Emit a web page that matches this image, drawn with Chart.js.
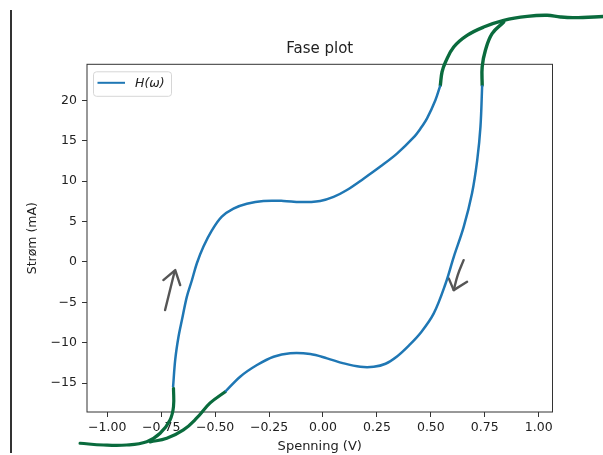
<!DOCTYPE html>
<html>
<head>
<meta charset="utf-8">
<script src="https://cdn.jsdelivr.net/npm/chart.js@4.4.1/dist/chart.umd.min.js"></script>
<style>
  body { margin:0; background:#fff; }
  #wrap { position:relative; width:603px; height:455px; }
  .edge { position:absolute; left:10px; top:10px; width:2px; height:443px; background:#333; }
</style>
</head>
<body>
<div id="wrap">
  <canvas id="myChart" width="603" height="455"></canvas>
  <div class="edge"></div>
</div>
<script>
// measured loop, forward sweep (bottom left -> top right)
const vUp = [-0.695, -0.685, -0.670, -0.654, -0.631, -0.608, -0.585, -0.554, -0.515, -0.469, -0.415, -0.353, -0.276, -0.183, -0.105, -0.013, 0.049, 0.111, 0.188, 0.266, 0.343, 0.420, 0.452, 0.483, 0.521, 0.544];
const iUp = [-15.5, -12.1, -9.3, -7.2, -4.3, -2.3, -0.2, 1.9, 3.9, 5.6, 6.6, 7.2, 7.55, 7.55, 7.4, 7.55, 8.05, 8.9, 10.3, 11.8, 13.4, 15.4, 16.5, 17.8, 20.0, 21.85];

// return sweep (top right -> bottom left)
const vDown = [0.738, 0.730, 0.715, 0.691, 0.652, 0.606, 0.568, 0.513, 0.452, 0.400, 0.343, 0.290, 0.235, 0.173, 0.096, 0.019, -0.059, -0.152, -0.229, -0.306, -0.384, -0.453];
const iDown = [21.85, 16.7, 12.6, 8.5, 4.3, 0.6, -2.7, -6.4, -8.8, -10.3, -11.7, -12.6, -12.97, -12.97, -12.55, -11.93, -11.4, -11.31, -11.73, -12.76, -14.2, -16.06];

// green pen marks drawn over the print
const penLowAv = [-1.126, -1.018, -0.910, -0.817, -0.755, -0.709, -0.693, -0.693];
const penLowAi = [-22.44, -22.65, -22.65, -22.24, -21.20, -19.55, -17.91, -15.64];
const penLowBv = [-0.453, -0.523, -0.585, -0.647, -0.724, -0.801];
const penLowBi = [-16.06, -17.45, -19.31, -20.79, -21.82, -22.27];
const penTopAv = [0.544, 0.552, 0.568, 0.606, 0.668, 0.745, 0.838, 0.947, 1.039, 1.101, 1.163, 1.31];
const penTopAi = [21.85, 23.5, 24.73, 26.59, 28.03, 29.06, 29.89, 30.38, 30.51, 30.3, 30.22, 30.38];
const penTopBv = [0.738, 0.738, 0.753, 0.784, 0.838];
const penTopBi = [21.85, 24.12, 26.18, 28.24, 29.68];

// grey arrows
const arrowUpV = [-0.732, -0.689];
const arrowUpI = [-5.96, -1.3];
const arrowUpHeadV = [-0.740, -0.685, -0.662];
const arrowUpHeadI = [-2.25, -1.01, -2.87];
const arrowDownV = [0.652, 0.625, 0.606];
const arrowDownI = [0.22, -1.6, -3.49];
const arrowDownHeadV = [0.583, 0.606, 0.668];
const arrowDownHeadI = [-2.04, -3.49, -2.46];

const xTicks = [-1, -0.75, -0.5, -0.25, 0, 0.25, 0.5, 0.75, 1];
const yTicks = [-15, -10, -5, 0, 5, 10, 15, 20];
const xMin = -1.094, xMax = 1.064;
const yMin = -18.57, yMax = 24.45;

const blue = '#1f77b4';
const green = '#0a6b3d';
const grey = '#555';
const font = '"DejaVu Sans", sans-serif';

const pts = (xs, ys) => xs.map((x, k) => ({x: x, y: ys[k]}));

const pen = (xs, ys, color, width, tension) => ({
  data: pts(xs, ys),
  borderColor: color,
  borderWidth: width,
  showLine: true,
  pointRadius: 0,
  tension: tension,
  clip: false,
  borderCapStyle: 'round',
  borderJoinStyle: 'round',
  capBezierPoints: false
});

const minus = s => s.replace('-', '\u2212');

// matplotlib style box round the axes
const frame = {
  id: 'frame',
  beforeDatasetsDraw(chart) {
    const {ctx, chartArea: a} = chart;
    ctx.save();
    ctx.strokeStyle = '#333';
    ctx.lineWidth = 1;
    ctx.strokeRect(a.left, a.top, a.right - a.left, a.bottom - a.top);
    ctx.restore();
  }
};

// legend in the upper left corner, like plt.legend()
const legendBox = {
  id: 'legendBox',
  afterDraw(chart) {
    const {ctx, chartArea: a} = chart;
    const ds = chart.data.datasets[0];
    const x = a.left + 6.5, y = a.top + 7.5, w = 78, h = 24.5;
    ctx.save();
    ctx.beginPath();
    ctx.roundRect(x, y, w, h, 3);
    ctx.fillStyle = 'rgba(255,255,255,0.8)';
    ctx.fill();
    ctx.strokeStyle = '#d6d6d6';
    ctx.lineWidth = 1;
    ctx.stroke();
    ctx.beginPath();
    ctx.moveTo(x + 4, y + 11);
    ctx.lineTo(x + 31.5, y + 11);
    ctx.strokeStyle = ds.borderColor;
    ctx.lineWidth = 2;
    ctx.stroke();
    ctx.fillStyle = '#222';
    ctx.textBaseline = 'middle';
    ctx.font = 'italic 12.5px ' + font;
    ctx.fillText(ds.label, x + 41.5, y + 12);
    ctx.restore();
  }
};

const data = {
  datasets: [
    {label: 'H(\u03c9)', data: pts(vUp, iUp), borderColor: blue, borderWidth: 2.5, showLine: true, pointRadius: 0, tension: 0.35},
    {label: 'down', data: pts(vDown, iDown), borderColor: blue, borderWidth: 2.5, showLine: true, pointRadius: 0, tension: 0.35},
    pen(penLowAv, penLowAi, green, 3.2, 0.4),
    pen(penLowBv, penLowBi, green, 3.2, 0.4),
    pen(penTopAv, penTopAi, green, 3.4, 0.4),
    pen(penTopBv, penTopBi, green, 3.4, 0.4),
    pen(arrowUpV, arrowUpI, grey, 2.4, 0),
    pen(arrowUpHeadV, arrowUpHeadI, grey, 2.4, 0),
    pen(arrowDownV, arrowDownI, grey, 2.4, 0.4),
    pen(arrowDownHeadV, arrowDownHeadI, grey, 2.4, 0)
  ]
};

const config = {
  type: 'scatter',
  data: data,
  options: {
    responsive: false,
    animation: false,
    events: [],
    layout: {padding: {left: 0, right: 50.5, top: 0, bottom: 0}},
    plugins: {
      legend: {display: false},
      tooltip: {enabled: false},
      title: {
        display: true,
        text: 'Fase plot',
        fullSize: false,
        color: '#222',
        font: {family: font, size: 15, weight: 'normal', lineHeight: 1.2},
        padding: {top: 40, bottom: 6.3}
      }
    },
    scales: {
      x: {
        type: 'linear',
        bounds: 'data',
        afterBuildTicks: s => {
          s.min = xMin; s.max = xMax;
          s.ticks = xTicks.map(v => ({value: v}));
        },
        afterFit: s => { s.height = 43; },
        grid: {drawOnChartArea: false, tickLength: 5, color: '#333', tickColor: '#333'},
        border: {display: false},
        ticks: {
          color: '#222', padding: 3.5,
          font: {family: font, size: 12.5},
          callback: v => minus(v.toFixed(2))
        },
        title: {
          display: true, text: 'Spenning (V)', color: '#222',
          font: {family: font, size: 13},
          padding: {top: 0, bottom: 1}
        }
      },
      y: {
        type: 'linear',
        bounds: 'data',
        afterBuildTicks: s => {
          s.min = yMin; s.max = yMax;
          s.ticks = yTicks.map(v => ({value: v}));
        },
        afterFit: s => { s.width = 87; },
        grid: {drawOnChartArea: false, tickLength: 5, color: '#333', tickColor: '#333'},
        border: {display: false},
        ticks: {
          color: '#222', padding: 5,
          font: {family: font, size: 12.5},
          callback: v => minus(String(v))
        },
        title: {
          display: true, text: 'Str\u00f8m (mA)', color: '#222',
          font: {family: font, size: 12.5},
          padding: {top: 25.5, bottom: 0}
        }
      }
    }
  },
  plugins: [frame, legendBox]
};

const myChart = new Chart(document.getElementById('myChart'), config);
</script>
</body>
</html>
